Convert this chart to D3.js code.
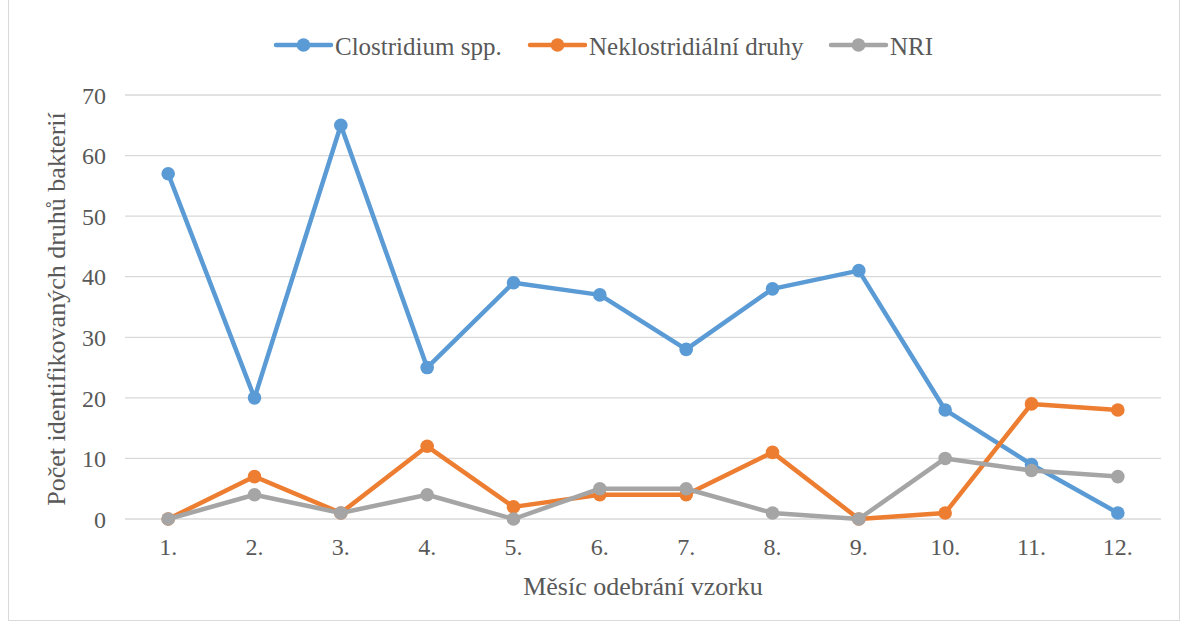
<!DOCTYPE html>
<html><head><meta charset="utf-8">
<script src="https://cdn.jsdelivr.net/npm/d3@7"></script>
<style>body{margin:0;background:#fff}svg{display:block}text{font-family:"Liberation Serif","Times New Roman",serif;fill:#595959}</style>
</head><body><svg id="c" width="1180" height="626"></svg>
<script>
const categories = ["1.","2.","3.","4.","5.","6.","7.","8.","9.","10.","11.","12."];
const clostridium = [57,20,65,25,39,37,28,38,41,18,9,1];
const neklostridialni = [0,7,1,12,2,4,4,11,0,1,19,18];
const nri = [0,4,1,4,0,5,5,1,0,10,8,7];
const yTicks = [0,10,20,30,40,50,60,70];
const seriesNames = ["Clostridium spp.","Neklostridiální druhy","NRI"];
const colors = ["#5B9BD5","#ED7D31","#A5A5A5"];
const series = [clostridium, neklostridialni, nri];

const svg = d3.select("#c");
svg.append("rect").attr("x",8.5).attr("y",-1).attr("width",1171).attr("height",621.5).attr("fill","none").attr("stroke","#d9d9d9");

const L=125, R=1161, T=95, B=519;
const x = d3.scaleBand().domain(categories).range([L,R]);
const y = d3.scaleLinear().domain([0,70]).range([B,T]);

svg.append("g").selectAll("line").data(yTicks).join("line")
  .attr("x1",L).attr("x2",R).attr("y1",d=>y(d)).attr("y2",d=>y(d))
  .attr("stroke","#d9d9d9").attr("stroke-width",1.3);

const yAxis = svg.append("g").attr("transform",`translate(${L},0)`).call(d3.axisLeft(y).tickValues(yTicks).tickSize(0).tickPadding(19));
yAxis.select(".domain").remove();
yAxis.selectAll("text").attr("font-size",24).attr("dy","0.34em").style("font-family","Liberation Serif").attr("fill","#595959");

const xAxis = svg.append("g").attr("transform",`translate(0,${B})`).call(d3.axisBottom(x).tickSize(0).tickPadding(0));
xAxis.select(".domain").remove();
xAxis.selectAll("text").attr("font-size",24).attr("dy",0).attr("y",36).style("font-family","Liberation Serif").attr("fill","#595959");

const line = d3.line().x((d,i)=>x(categories[i])+x.bandwidth()/2).y(d=>y(d));
series.forEach((s,k)=>{
  const g = svg.append("g");
  g.append("path").attr("d",line(s)).attr("fill","none").attr("stroke",colors[k]).attr("stroke-width",4.5).attr("stroke-linejoin","round").attr("stroke-linecap","round");
  g.selectAll("circle").data(s).join("circle")
    .attr("cx",(d,i)=>x(categories[i])+x.bandwidth()/2).attr("cy",d=>y(d)).attr("r",6.8).attr("fill",colors[k]);
});

svg.append("text").attr("x",(L+R)/2).attr("y",595).attr("text-anchor","middle").attr("font-size",26).text("Měsíc odebrání vzorku");
svg.append("text").attr("transform",`translate(65,309) rotate(-90)`).attr("text-anchor","middle").attr("font-size",26).text("Počet identifikovaných druhů bakterií");

const legX = [276, 530, 831];
seriesNames.forEach((n,k)=>{
  const g = svg.append("g").attr("transform",`translate(${legX[k]},45)`);
  g.append("line").attr("x1",0).attr("x2",55).attr("stroke",colors[k]).attr("stroke-width",4.5).attr("stroke-linecap","round");
  g.append("circle").attr("cx",27.5).attr("r",6.8).attr("fill",colors[k]);
  g.append("text").attr("x",59).attr("y",10).attr("font-size",25).text(n);
});
</script></body></html>
